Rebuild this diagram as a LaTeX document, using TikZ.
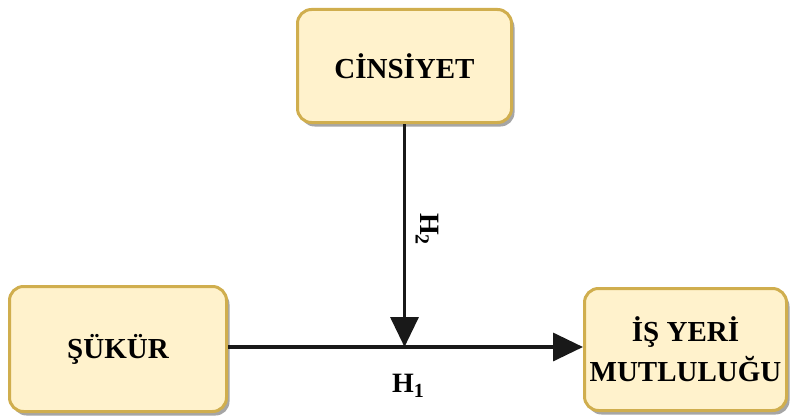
\documentclass[tikz,border=0pt]{standalone}
\usepackage{fontspec}
\setmainfont{Liberation Serif}
\usetikzlibrary{arrows.meta,shadows}
\definecolor{boxfill}{HTML}{FFF2CC}
\definecolor{boxdraw}{HTML}{D0AE4E}
\tikzset{
  varbox/.style={draw=boxdraw, fill=boxfill, line width=3pt, rounded corners=14pt,
    align=center, inner sep=0pt, font=\bfseries\fontsize{29}{40}\selectfont,
    drop shadow={shadow xshift=3pt, shadow yshift=-4pt, fill=black, opacity=0.35}},
  conn/.style={line width=3.5pt, draw=black!90, -{Triangle[length=30pt,width=28pt]}},
  hlabel/.style={font=\bfseries\fontsize{28}{32}\selectfont, inner sep=0pt}
}
\newcommand{\hsub}[1]{\raisebox{-0.35ex}{\fontsize{20}{22}\selectfont #1}}
\begin{document}
\begin{tikzpicture}[x=1pt,y=-1pt]
\useasboundingbox (0,0) rectangle (791,417);
\node[varbox, minimum width=214pt, minimum height=113pt] (cins) at (404.5,66) {CİNSİYET};
\node[varbox, minimum width=217pt, minimum height=125pt] (sukur) at (118,349) {ŞÜKÜR};
\node[varbox, minimum width=202pt, minimum height=122pt] (isyeri) at (685.5,349.5) {İŞ YERİ\\MUTLULUĞU};
\coordinate (junc) at (cins.south |- 0,347);
\draw[conn] (cins.south) -- (junc);
\draw[conn] (sukur.east |- junc) -- (isyeri.west |- junc);
\node[hlabel, rotate=-90] (h2) at (427,229) {H\hsub{2}};
\node[hlabel] (h1) at (408,386) {H\hsub{1}};
\end{tikzpicture}
\end{document}
